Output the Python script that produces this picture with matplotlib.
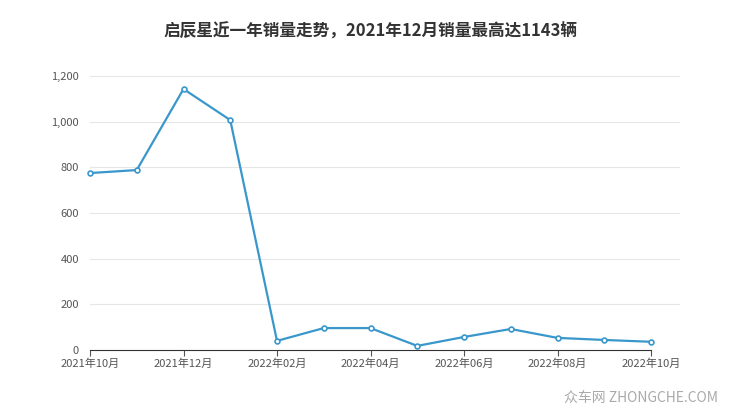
import matplotlib
matplotlib.use("Agg")
import matplotlib.pyplot as plt

plt.rcParams['font.family'] = ['Noto Sans CJK SC', 'DejaVu Sans']

months = ["2021年10月", "2021年11月", "2021年12月", "2022年01月", "2022年02月", "2022年03月",
          "2022年04月", "2022年05月", "2022年06月", "2022年07月", "2022年08月", "2022年09月", "2022年10月"]
sales = [775, 788, 1143, 1007, 40, 96, 96, 18, 57, 92, 53, 44, 36]
tick_idx = [0, 2, 4, 6, 8, 10, 12]

fig = plt.figure(figsize=(7.4, 4.17), dpi=100)
ax = fig.add_axes([90/740, 1 - 350/417, 561/740, 274/417])

x = list(range(len(months)))
ax.plot(x, sales, color="#3a97cb", lw=1.6, marker="o", ms=3.5,
        markerfacecolor="white", markeredgecolor="#3a97cb", markeredgewidth=1.2, clip_on=False)

ax.set_xlim(0, len(months) - 1)
ax.set_ylim(0, 1200)
ax.set_yticks(range(0, 1201, 200))
ax.set_yticklabels([f"{v:,}" for v in range(0, 1201, 200)])
ax.set_xticks(tick_idx)
ax.set_xticklabels([months[i] for i in tick_idx])
ax.tick_params(axis="y", length=0, labelsize=8, colors="#555555", pad=8)
ax.tick_params(axis="x", length=4, labelsize=8, colors="#555555", pad=2)
for v in range(200, 1201, 200):
    ax.plot([0, 12.6], [v, v], color="#e6e6e6", lw=0.8, zorder=0, clip_on=False)
for s in ["top", "right", "left"]:
    ax.spines[s].set_visible(False)
ax.spines["bottom"].set_color("#333333")

fig.text(0.5, 1 - 32/417, "启辰星近一年销量走势，2021年12月销量最高达1143辆",
         ha="center", va="center", fontsize=12, fontweight="bold", color="#333333")
fig.text(718/740, 1 - 398/417, "众车网 ZHONGCHE.COM", ha="right", va="center",
         fontsize=10, color="#aaaaaa")

fig.savefig("out.png", dpi=100)
